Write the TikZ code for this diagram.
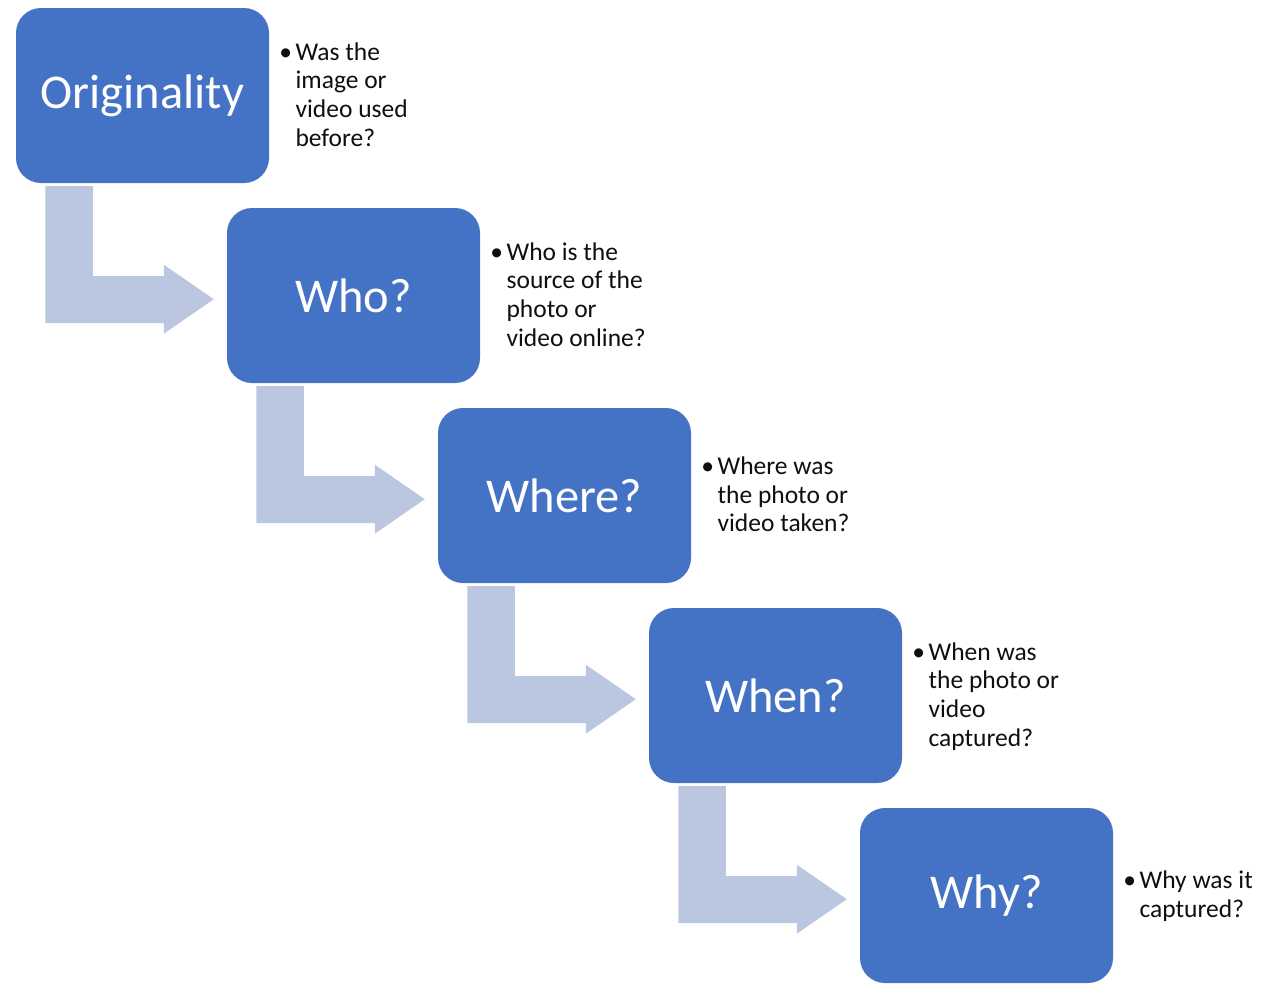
\documentclass[tikz,border=0pt]{standalone}
\usepackage{fontspec}
\setmainfont{Carlito}
\usetikzlibrary{calc}
\definecolor{boxblue}{RGB}{68,114,196}
\definecolor{arrowblue}{RGB}{187,198,224}
\definecolor{notetext}{RGB}{15,15,15}
\tikzset{
  stepbox/.style={fill=boxblue, rounded corners=25pt, minimum width=253pt,
    minimum height=175pt, inner sep=0pt, text=white,
    font=\fontsize{48.5}{58}\selectfont},
  note/.style={anchor=west, inner sep=0pt, text=notetext,
    font=\fontsize{25.5}{28.7}\selectfont},
  bentarrow/.style={fill=arrowblue}
}
\newcommand\stepnote[1]{\begin{tabular}{@{}l@{\hspace{3.5pt}}l@{}}#1\end{tabular}}
\newcommand\bentconn[1]{%
  \begin{scope}[shift={(#1.south west)}]
    \fill[bentarrow] (29.5pt,-3pt) -- (77pt,-3pt) -- (77pt,-93pt) -- (148pt,-93pt)
      -- (148pt,-81.5pt) -- (198pt,-116pt) -- (148pt,-150.5pt) -- (148pt,-140pt)
      -- (29.5pt,-140pt) -- cycle;
  \end{scope}}
\begin{document}
\begin{tikzpicture}
\useasboundingbox (0pt,0pt) rectangle (1263pt,-983pt);
\node[stepbox] (b1) at (142.5pt,-95.5pt) {Originality};
\node[stepbox] (b2) at (353.5pt,-295.5pt) {Who?};
\node[stepbox] (b3) at (564.5pt,-495.5pt) {Where?};
\node[stepbox] (b4) at (775.5pt,-695.5pt) {When?};
\node[stepbox] (b5) at (986.5pt,-895.5pt) {Why?};
\bentconn{b1}
\bentconn{b2}
\bentconn{b3}
\bentconn{b4}
\node[note] (n1) at ($(b1.east)+(10pt,-2pt)$) {\stepnote{\textbullet & Was the\\ & image or\\ & video used\\ & before?}};
\node[note] (n2) at ($(b2.east)+(10pt,-2pt)$) {\stepnote{\textbullet & Who is the\\ & source of the\\ & photo or\\ & video online?}};
\node[note] (n3) at ($(b3.east)+(10pt,-2pt)$) {\stepnote{\textbullet & Where was\\ & the photo or\\ & video taken?}};
\node[note] (n4) at ($(b4.east)+(10pt,-2pt)$) {\stepnote{\textbullet & When was\\ & the photo or\\ & video\\ & captured?}};
\node[note] (n5) at ($(b5.east)+(10pt,-2pt)$) {\stepnote{\textbullet & Why was it\\ & captured?}};
\end{tikzpicture}
\end{document}
